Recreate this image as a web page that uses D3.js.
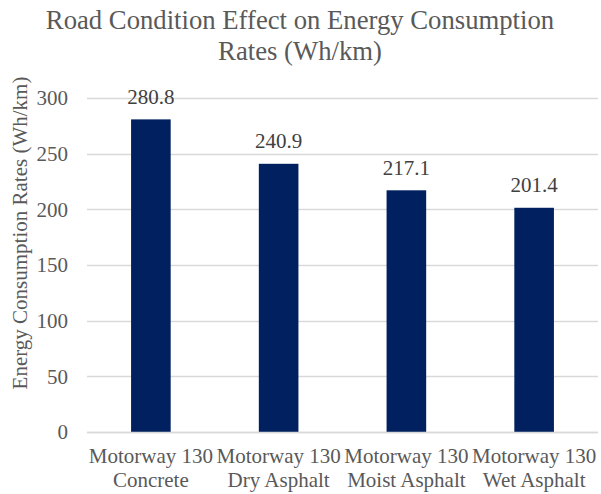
<!DOCTYPE html>
<html>
<head>
<meta charset="utf-8">
<script src="https://cdn.jsdelivr.net/npm/d3@7"></script>
<style>
  html, body { margin: 0; padding: 0; background: #fff; }
  svg { display: block; }
  svg text { font-family: "Liberation Serif", Tinos, "Times New Roman", "DejaVu Serif", serif; }
</style>
</head>
<body>
<svg id="chart" width="601" height="494"></svg>
<script>
// Road surfaces tested at motorway speed (130 km/h)
const categoryLine1 = ["Motorway 130", "Motorway 130", "Motorway 130", "Motorway 130"];
const categoryLine2 = ["Concrete", "Dry Asphalt", "Moist Asphalt", "Wet Asphalt"];
const consumption = [280.8, 240.9, 217.1, 201.4];
const yTicks = [0, 50, 100, 150, 200, 250, 300];

const FONT = "'Liberation Serif', Tinos, 'Times New Roman', 'DejaVu Serif', serif";
const LABEL_SIZE = "21px";
const svg = d3.select("#chart");
const margin = { left: 87, right: 3, top: 98, bottom: 62 };
const W = 601, H = 494;

const x = d3.scaleBand()
  .domain(d3.range(consumption.length))
  .range([margin.left, W - margin.right])
  .paddingInner(0.69)
  .paddingOuter(0.345);

const y = d3.scaleLinear().domain([0, 300]).range([H - margin.bottom, margin.top]);

// Title
const title = svg.append("text")
  .attr("text-anchor", "middle")
  .attr("fill", "#595959")
  .attr("font-family", FONT)
  .style("font-size", "26.7px");
title.append("tspan").attr("x", 300).attr("y", 29).text("Road Condition Effect on Energy Consumption");
title.append("tspan").attr("x", 300).attr("y", 60).text("Rates (Wh/km)");

// Horizontal gridlines
svg.append("g").selectAll("line")
  .data(yTicks)
  .join("line")
  .attr("x1", margin.left).attr("x2", W - margin.right)
  .attr("y1", d => Math.round(y(d)) + 0.5).attr("y2", d => Math.round(y(d)) + 0.5)
  .attr("stroke", "#d9d9d9").attr("stroke-width", 1.3);

// Y axis tick labels
const yAxis = d3.axisLeft(y).tickValues(yTicks).tickSize(0).tickPadding(0);
svg.append("g")
  .attr("transform", `translate(${68},0)`)
  .call(yAxis)
  .attr("font-family", FONT)
  .call(g => g.select(".domain").remove())
  .call(g => g.selectAll("text")
    .attr("fill", "#595959")
    .style("font-size", LABEL_SIZE));

// Y axis title
svg.append("text")
  .attr("transform", "translate(27, 233) rotate(-90)")
  .attr("text-anchor", "middle")
  .attr("fill", "#595959")
  .attr("font-family", FONT)
  .style("font-size", LABEL_SIZE)
  .text("Energy Consumption Rates (Wh/km)");

// Bars
svg.append("g").selectAll("rect")
  .data(consumption)
  .join("rect")
  .attr("x", (d, i) => x(i))
  .attr("width", x.bandwidth())
  .attr("y", d => y(d))
  .attr("height", d => y(0) - y(d))
  .attr("fill", "#002060");

// Value labels
svg.append("g").selectAll("text")
  .data(consumption)
  .join("text")
  .attr("x", (d, i) => x(i) + x.bandwidth() / 2)
  .attr("y", d => y(d) - 15.5)
  .attr("text-anchor", "middle")
  .attr("fill", "#404040")
  .attr("font-family", FONT)
  .style("font-size", LABEL_SIZE)
  .text(d => d.toFixed(1));

// Baseline redrawn on top of bars
svg.append("line")
  .attr("x1", margin.left).attr("x2", W - margin.right)
  .attr("y1", Math.round(y(0)) + 0.5).attr("y2", Math.round(y(0)) + 0.5)
  .attr("stroke", "#d9d9d9").attr("stroke-width", 1.3);

// Category labels (two lines)
const cat = svg.append("g").selectAll("text")
  .data(consumption)
  .join("text")
  .attr("text-anchor", "middle")
  .attr("fill", "#595959")
  .attr("font-family", FONT)
  .style("font-size", LABEL_SIZE);
cat.append("tspan")
  .attr("x", (d, i) => x(i) + x.bandwidth() / 2)
  .attr("y", 463)
  .text((d, i) => categoryLine1[i]);
cat.append("tspan")
  .attr("x", (d, i) => x(i) + x.bandwidth() / 2)
  .attr("y", 487)
  .text((d, i) => categoryLine2[i]);
</script>
</body>
</html>
